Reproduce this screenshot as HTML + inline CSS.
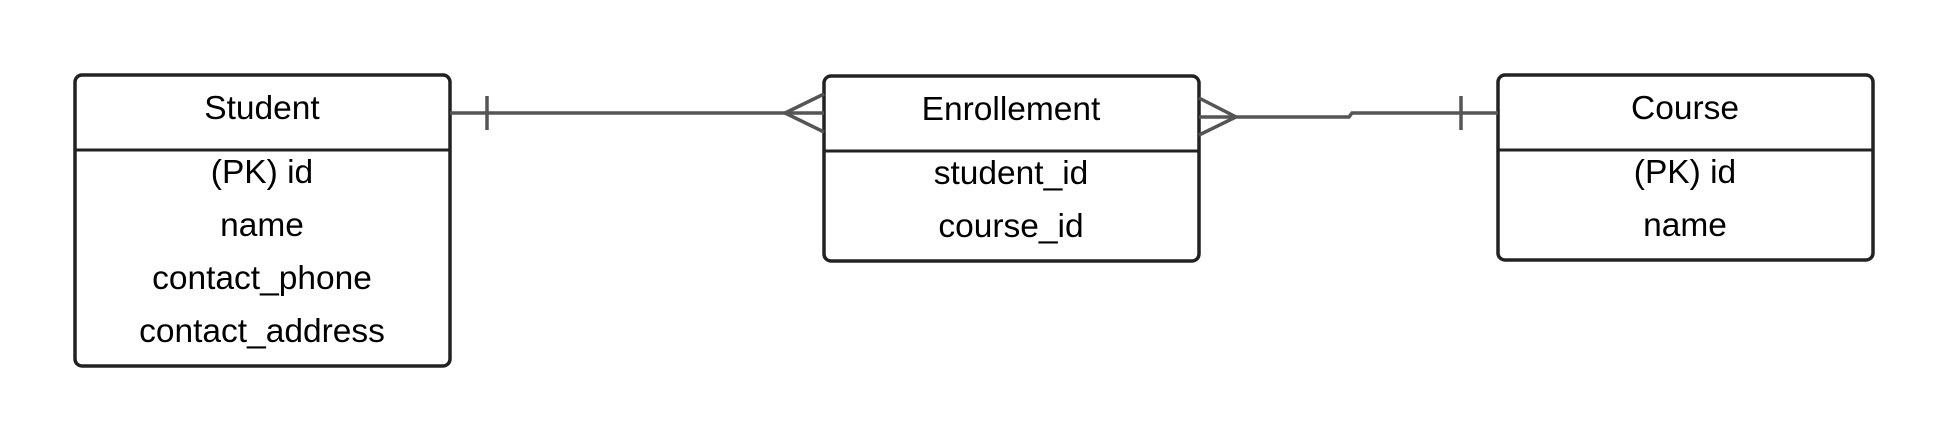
<!DOCTYPE html>
<html><head><style>
body{margin:0;width:1950px;height:441px;background:#fff;overflow:hidden}
svg text{font-family:"Liberation Sans",sans-serif;font-size:33.5px;fill:#000;text-anchor:middle}
</style></head><body>
<svg width="1950" height="441" xmlns="http://www.w3.org/2000/svg">
<g fill="#fff" stroke="#222" stroke-width="3.5">
<rect x="75" y="75" width="375" height="291" rx="7"/>
<rect x="824" y="76" width="375" height="185" rx="7"/>
<rect x="1498" y="75" width="375" height="185" rx="7"/>
</g>
<g stroke="#222" stroke-width="3">
<line x1="75" y1="150" x2="450" y2="150"/>
<line x1="824" y1="151" x2="1199" y2="151"/>
<line x1="1498" y1="150" x2="1873" y2="150"/>
</g>
<g stroke="#555" stroke-width="3.5" fill="none">
<line x1="450" y1="113" x2="824" y2="113"/>
<line x1="487" y1="96" x2="487" y2="130"/>
<polyline points="824,94 785,113 824,132"/>
<polyline points="1199,98 1236,117 1199,135"/>
<polyline points="1199,117 1349,117 1352,113 1498,113"/>
<line x1="1461" y1="96" x2="1461" y2="130"/>
</g>
<text x="262" y="119">Student</text>
<text x="262" y="183">(PK) id</text>
<text x="262" y="236">name</text>
<text x="262" y="289">contact_phone</text>
<text x="262" y="342">contact_address</text>
<text x="1011" y="120">Enrollement</text>
<text x="1011" y="184">student_id</text>
<text x="1011" y="237">course_id</text>
<text x="1685" y="119">Course</text>
<text x="1685" y="183">(PK) id</text>
<text x="1685" y="236">name</text>
</svg>
</body></html>
